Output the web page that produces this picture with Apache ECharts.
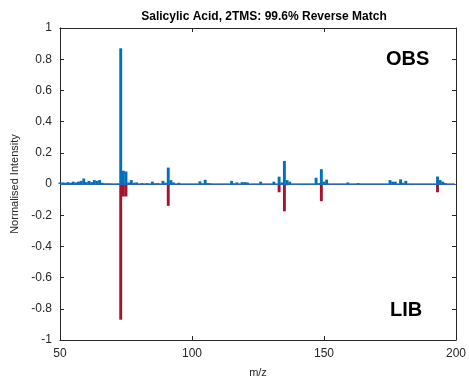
<!DOCTYPE html>
<html>
<head>
<meta charset="utf-8">
<script src="https://cdn.jsdelivr.net/npm/echarts@6/dist/echarts.min.js"></script>
<style>html,body{margin:0;padding:0;background:#fff}#c{width:469px;height:383px}</style>
</head>
<body>
<div id="c"></div>
<script>
const titleText = 'Salicylic Acid, 2TMS: 99.6% Reverse Match';
const xTicks = [50, 100, 150, 200];
const yTicks = [-1, -0.8, -0.6, -0.4, -0.2, 0, 0.2, 0.4, 0.6, 0.8, 1];
const obsMz  = [50,51,52,53,54,55,56,57,58,59,60,61,62,63,64,65,66,67,68,69,70,71,72,73,74,75,76,77,78,79,80,81,82,83,84,85,86,87,88,89,90,91,92,93,94,95,96,97,98,99,100,101,102,103,104,105,106,107,108,109,110,111,112,113,114,115,116,117,118,119,120,121,122,123,124,125,126,127,128,129,130,131,132,133,134,135,136,137,138,139,140,141,142,143,144,145,146,147,148,149,150,151,152,153,154,155,156,157,158,159,160,161,162,163,164,165,166,167,168,169,170,171,172,173,174,175,176,177,178,179,180,181,182,183,184,185,186,187,188,189,190,191,192,193,194,195,196,197,198,199];
const obsInt = [0.01,0.01,0.008,0.012,0.008,0.015,0.01,0.015,0.02,0.035,0.012,0.02,0.012,0.025,0.02,0.025,0.008,0.005,0.005,0.005,0.004,0.004,0.005,0.87,0.085,0.08,0.01,0.025,0.008,0.01,0.004,0.006,0.004,0.006,0.004,0.015,0.005,0.006,0.004,0.02,0.008,0.105,0.025,0.01,0.004,0.008,0.004,0.004,0.004,0.004,0.004,0.004,0.004,0.017,0.005,0.027,0.006,0.005,0.004,0.004,0.004,0.004,0.004,0.004,0.004,0.02,0.005,0.01,0.004,0.012,0.012,0.01,0.004,0.004,0.004,0.004,0.015,0.004,0.004,0.004,0.004,0.015,0.004,0.047,0.01,0.148,0.025,0.015,0.004,0.004,0.004,0.004,0.004,0.004,0.004,0.004,0.004,0.04,0.006,0.095,0.015,0.028,0.004,0.004,0.004,0.004,0.004,0.004,0.004,0.01,0.004,0.004,0.004,0.006,0.004,0.004,0.004,0.004,0.004,0.004,0.004,0.004,0.004,0.004,0.004,0.025,0.015,0.015,0.004,0.03,0.008,0.02,0.004,0.004,0.004,0.004,0.004,0.004,0.004,0.004,0.004,0.004,0.004,0.048,0.025,0.015,0.006,0.004,0.004,0.004];
const libMz  = [73,74,75,77,91,92,133,135,136,147,149,150,151,179,193,194];
const libInt = [-0.87,-0.08,-0.08,-0.005,-0.14,-0.006,-0.053,-0.175,-0.008,-0.006,-0.11,-0.005,-0.006,-0.005,-0.053,-0.006];

const obsData = obsMz.map((m, i) => [m, obsInt[i]]);
const libData = libMz.map((m, i) => [m, libInt[i]]);

function barItem(color) {
  return function (params, api) {
    const x = api.value(0), y = api.value(1);
    const p0 = api.coord([x - 0.55, 0]);
    const p1 = api.coord([x + 0.55, y]);
    return {
      type: 'rect',
      shape: { x: p0[0], y: Math.min(p0[1], p1[1]), width: p1[0] - p0[0], height: Math.abs(p1[1] - p0[1]) },
      style: { fill: color }
    };
  };
}

const axisCol = '#262626';
const chart = echarts.init(document.getElementById('c'));
chart.setOption({
  animation: false,
  title: {
    text: titleText, left: 259, top: 6, textAlign: 'center',
    textStyle: { fontFamily: 'Liberation Sans, Arial, sans-serif', fontSize: 12, fontWeight: 'bold', color: '#000' }
  },
  grid: { left: 60, right: 10, top: 28, bottom: 41 },
  xAxis: [{
    type: 'value', min: 50, max: 200, interval: 50, position: 'bottom',
    name: 'm/z', nameLocation: 'middle', nameGap: 27,
    nameTextStyle: { fontFamily: 'Liberation Sans, Arial, sans-serif', fontSize: 11, color: axisCol },
    axisLine: { onZero: false, lineStyle: { color: axisCol, width: 1 } },
    axisTick: { inside: true, length: 4, lineStyle: { color: axisCol } },
    axisLabel: { fontFamily: 'Liberation Sans, Arial, sans-serif', fontSize: 12, color: axisCol, margin: 8 },
    splitLine: { show: false }
  }, {
    type: 'value', min: 50, max: 200, interval: 50, position: 'top',
    axisLine: { onZero: false, lineStyle: { color: axisCol, width: 1 } },
    axisTick: { inside: true, length: 4, lineStyle: { color: axisCol } },
    axisLabel: { show: false }, splitLine: { show: false }
  }],
  yAxis: [{
    type: 'value', min: -1, max: 1, interval: 0.2, position: 'left',
    name: 'Normalised Intensity', nameLocation: 'middle', nameGap: 35, nameRotate: 90,
    nameTextStyle: { fontFamily: 'Liberation Sans, Arial, sans-serif', fontSize: 11, color: axisCol },
    axisLine: { onZero: false, lineStyle: { color: axisCol, width: 1 } },
    axisTick: { inside: true, length: 4, lineStyle: { color: axisCol } },
    axisLabel: {
      fontFamily: 'Liberation Sans, Arial, sans-serif', fontSize: 12, color: axisCol, margin: 8,
      formatter: v => { const r = Math.round(v * 10) / 10; return r === 0 ? '0' : String(r); }
    },
    splitLine: { show: false }
  }, {
    type: 'value', min: -1, max: 1, interval: 0.2, position: 'right',
    axisLine: { onZero: false, lineStyle: { color: axisCol, width: 1 } },
    axisTick: { inside: true, length: 4, lineStyle: { color: axisCol } },
    axisLabel: { show: false }, splitLine: { show: false }
  }],
  series: [
    {
      name: 'LIB', type: 'custom', xAxisIndex: 0, yAxisIndex: 0,
      renderItem: barItem('#A2142F'), data: libData, encode: { x: 0, y: 1 }, z: 2
    },
    {
      name: 'OBS', type: 'custom', xAxisIndex: 0, yAxisIndex: 0,
      renderItem: barItem('#0072BD'), data: obsData, encode: { x: 0, y: 1 }, z: 3,
      markLine: {
        silent: true, symbol: 'none', label: { show: false },
        lineStyle: { color: '#2a66b0', width: 1.2, type: 'solid' },
        data: [{ yAxis: 0 }]
      }
    }
  ],
  graphic: [
    { type: 'text', left: 386, top: 49, style: { text: 'OBS', fontFamily: 'Liberation Sans, Arial, sans-serif', fontSize: 20, fontWeight: 'bold', fill: '#000' } },
    { type: 'text', left: 390, top: 300, style: { text: 'LIB', fontFamily: 'Liberation Sans, Arial, sans-serif', fontSize: 20, fontWeight: 'bold', fill: '#000' } }
  ]
});
</script>
</body>
</html>
